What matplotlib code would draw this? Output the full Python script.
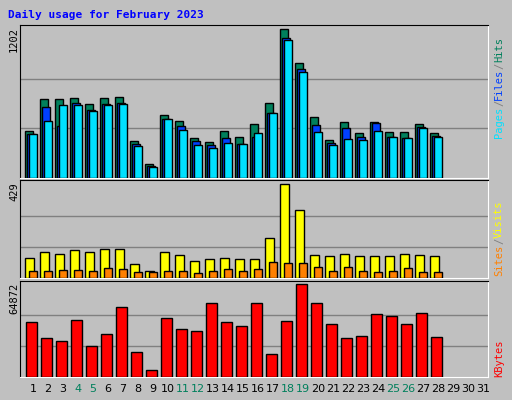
import matplotlib
matplotlib.use("Agg")
import matplotlib.pyplot as plt
import numpy as np

days = list(range(1, 32))
hits = [384,638,638,646,597,646,654,303,114,507,458,327,294,376,335,433,605,1202,932,491,311,450,360,450,368,368,433,360]
files = [352,572,417,605,548,597,605,278,98,474,417,303,270,327,278,335,523,1128,883,425,286,401,335,442,335,327,409,343]
pages = [352,458,589,589,540,589,597,262,90,474,392,270,245,286,278,360,523,1112,859,368,270,319,311,376,335,327,401,335]
visits = [93,121,112,126,121,131,131,65,33,117,107,79,89,93,89,89,182,429,312,107,103,112,103,103,103,112,107,103]
sites = [33,33,37,37,33,47,42,28,28,33,33,23,33,42,33,42,75,70,70,51,33,51,33,28,33,47,28,28]
kbytes = [38495,27090,24950,39920,21385,29940,49190,17820,4990,41345,33505,32080,52040,38495,35645,52040,16395,39210,64872,52040,37070,27090,28515,44200,42770,37070,44910,27800]
weekends = [4,5,11,12,18,19,25,26]

BG = "#C0C0C0"
W, H = 512, 400
fig = plt.figure(figsize=(W/100, H/100), dpi=100, facecolor=BG)

def ax_at(x0, y0, x1, y1):
    a = fig.add_axes([x0/W, 1-y1/H, (x1-x0)/W, (y1-y0)/H])
    a.set_facecolor(BG)
    a.set_xlim(0.13, 0.13+468/15)
    a.set_xticks([]); a.set_yticks([])
    for s in ["left", "top"]:
        a.spines[s].set_color("black")
    for s in ["right", "bottom"]:
        a.spines[s].set_color("white")
    return a

n = len(hits)
d = np.arange(1, n+1)
u = 1/15.0
w = 7.7*u
kw = dict(width=w, align="edge", edgecolor="black", linewidth=1, zorder=3)

# top panel
a1 = ax_at(20, 25, 488, 178)
a1.set_ylim(0, 1237)
for g in (1202/3, 2*1202/3):
    a1.axhline(g, color="#808080", lw=1, zorder=1)
a1.bar(d-8*u, hits, color="#00805C", **kw)
a1.bar(d-6*u, files, color="#0040FF", **kw)
a1.bar(d-4*u, pages, color="#00E0FF", **kw)

# middle
a2 = ax_at(20, 180, 488, 278)
a2.set_ylim(0, 449)
for g in (429/3, 2*429/3):
    a2.axhline(g, color="#808080", lw=1, zorder=1)
a2.bar(d-8*u, visits, color="#FFFF00", **dict(kw, width=8.7*u))
a2.bar(d-4*u, sites, color="#FF8000", **kw)

# bottom
a3 = ax_at(20, 281, 488, 377)
a3.set_ylim(0, 67250)
for g in (64872/3, 2*64872/3):
    a3.axhline(g, color="#808080", lw=1, zorder=1)
a3.bar(d-7*u, kbytes, color="#FF0000", **dict(kw, width=10.7*u))

# x labels
for day in days:
    x = 20 + (day - 0.13)*15
    fig.text(x/W, 1-389/H, str(day), ha="center", va="center", fontsize=8,
             color="#00805C" if day in weekends else "black", family="DejaVu Sans")

fig.text(8/W, 1-15/H, "Daily usage for February 2023", ha="left", va="center",
         fontsize=8, fontweight="bold", color="#0000FF", family="DejaVu Sans Mono")

mono = dict(family="DejaVu Sans Mono", fontsize=7.5, rotation=90, ha="center", va="top")
fig.text(14/W, 1-27/H, "1202", **mono)
fig.text(14/W, 1-182/H, "429", **mono)
fig.text(14/W, 1-283/H, "64872", **mono)

def vstack(parts, x, ybottom):
    y = ybottom
    for txt, col in parts:
        fig.text(x/W, 1-y/H, txt, color=col, family="DejaVu Sans Mono", fontsize=7.5,
                 rotation=90, ha="center", va="bottom")
        y -= len(txt)*6.3
vstack([("Pages", "#00E0FF"), ("/", "#808080"), ("Files", "#0040FF"), ("/", "#808080"), ("Hits", "#00805C")], 499, 138)
vstack([("Sites", "#FF8000"), ("/", "#808080"), ("Visits", "#FFFF00")], 499, 276)
vstack([("KBytes", "#FF0000")], 499, 377)

fig.savefig("out.png", dpi=100, facecolor=BG)
